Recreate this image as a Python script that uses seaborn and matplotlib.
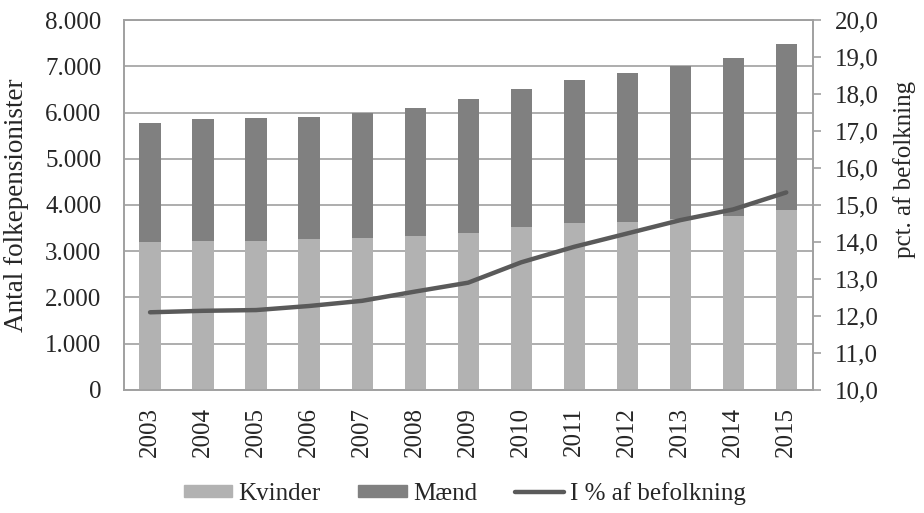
import matplotlib
matplotlib.use("Agg")
import matplotlib.pyplot as plt
import matplotlib.ticker as mticker
from matplotlib.patches import Patch
from matplotlib.lines import Line2D
import pandas as pd
import seaborn as sns

years = ["2003", "2004", "2005", "2006", "2007", "2008", "2009",
         "2010", "2011", "2012", "2013", "2014", "2015"]
kvinder = [3207, 3229, 3225, 3257, 3286, 3330, 3402, 3524, 3618, 3640, 3690, 3770, 3899]
total = [5766, 5852, 5874, 5903, 5982, 6104, 6285, 6515, 6703, 6847, 7012, 7171, 7474]
maend = [t - k for t, k in zip(total, kvinder)]
pct = [12.10, 12.14, 12.16, 12.27, 12.41, 12.66, 12.90, 13.45, 13.87, 14.23, 14.59, 14.88, 15.34]

K_COL, M_COL, L_COL, GRID = "#b2b2b2", "#808080", "#5a5a5a", "#a0a0a0"
FS = 18

sns.set_theme(style="white")
plt.rcParams["font.family"] = ["Liberation Serif", "DejaVu Serif"]

df = pd.DataFrame({"year": years, "kvinder": kvinder, "maend": maend,
                   "total": total, "pct": pct, "pos": range(len(years))})

fig = plt.figure(figsize=(9.24, 5.13), dpi=100)
ax = fig.add_axes([0.1337, 0.2398, 0.7459, 0.7212])

# stacked: draw totals (Mænd on top) then Kvinder over the lower part
sns.barplot(df, x="year", y="total", color=M_COL, saturation=1, width=0.4,
            linewidth=0, ax=ax, zorder=2)
sns.barplot(df, x="year", y="kvinder", color=K_COL, saturation=1, width=0.4,
            linewidth=0, ax=ax, zorder=3)
ax.set_xlim(-0.5, len(years) - 0.5)
ax.set_ylim(0, 8000)
ax.set_yticks(range(0, 8001, 1000))
ax.yaxis.set_major_formatter(mticker.FuncFormatter(lambda v, p: f"{v:,.0f}".replace(",", ".")))
ax.grid(axis="y", color=GRID, lw=1.2, zorder=0)
ax.set_axisbelow(True)
ax.set_xlabel("")
ax.set_ylabel("Antal folkepensionister", fontsize=19.5)
ax.yaxis.set_label_coords(-0.137, 0.5)
ax.tick_params(axis="x", labelsize=FS, rotation=90, length=0, pad=12)
ax.tick_params(axis="y", labelsize=FS, length=0, pad=16)
for s in ax.spines.values():
    s.set_color(GRID)
    s.set_linewidth(1.2)

ax2 = ax.twinx()
sns.lineplot(df, x="pos", y="pct", color=L_COL, lw=3.2, ax=ax2, zorder=4)
ax2.set_ylim(10, 20)
ax2.set_yticks(range(10, 21))
ax2.yaxis.set_major_formatter(mticker.FuncFormatter(lambda v, p: f"{v:.1f}".replace(".", ",")))
ax2.tick_params(axis="y", labelsize=FS, length=6, width=1.2, color=GRID, pad=10)
ax2.set_ylabel("pct. af befolkning", fontsize=FS)
ax2.yaxis.set_label_coords(1.117, 0.595)
ax2.set_xlim(-0.5, len(years) - 0.5)
for s in ax2.spines.values():
    s.set_color(GRID)
    s.set_linewidth(1.2)

handles = [Patch(color=K_COL, label="Kvinder"),
           Patch(color=M_COL, label="Mænd"),
           Line2D([], [], color=L_COL, lw=3.2, label="I % af befolkning")]
fig.legend(handles=handles, loc="center", bbox_to_anchor=(0.503, 0.038), ncol=3,
           frameon=False, fontsize=FS, handlelength=1.95, handleheight=0.4,
           handletextpad=0.25, columnspacing=1.5)

fig.savefig("out.png", dpi=100)
